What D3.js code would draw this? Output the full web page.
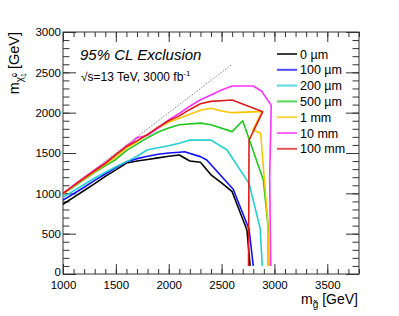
<!DOCTYPE html>
<html>
<head>
<meta charset="utf-8">
<script src="https://cdn.jsdelivr.net/npm/d3@7"></script>
<style>
body { margin: 0; background: #fff; }
text { font-family: "Liberation Sans", Arial, Helvetica, sans-serif; fill: #000; }
</style>
</head>
<body>
<div id="chart"></div>
<script>
// exclusion contours, [m_gluino, m_neutralino] in GeV
const curve0um = [[1000,865],[1100,950],[1200,1035],[1300,1120],[1400,1210],[1500,1290],[1600,1375],[1700,1400],[1800,1420],[1900,1440],[2000,1460],[2100,1475],[2200,1400],[2300,1385],[2400,1230],[2500,1130],[2600,1020],[2740,545],[2770,100]];
const curve100um = [[1000,915],[1100,995],[1200,1075],[1300,1160],[1400,1240],[1500,1320],[1600,1392],[1700,1430],[1800,1460],[1900,1485],[2000,1500],[2100,1510],[2150,1516],[2300,1455],[2360,1413],[2610,1050],[2760,555],[2800,100]];
const curve200um = [[1000,950],[1100,1030],[1200,1110],[1300,1190],[1400,1260],[1500,1330],[1600,1390],[1700,1460],[1800,1540],[2000,1590],[2100,1620],[2200,1660],[2400,1660],[2550,1540],[2760,1124],[2865,565],[2885,100]];
const curve500um = [[1000,990],[1100,1080],[1200,1170],[1300,1260],[1400,1340],[1500,1420],[1600,1530],[1700,1610],[1800,1690],[1900,1760],[2000,1810],[2100,1850],[2300,1870],[2400,1850],[2600,1765],[2700,1900],[2780,1600],[2895,1165],[2940,590],[2942,100]];
const curve1mm = [[1000,995],[1100,1090],[1200,1180],[1300,1270],[1400,1360],[1500,1450],[1600,1560],[1700,1640],[1800,1730],[1900,1810],[2000,1880],[2100,1930],[2200,1980],[2300,2030],[2400,2055],[2500,2020],[2600,2000],[2800,2010],[2885,2015],[2795,1785],[2870,1745],[2905,1165],[2935,700],[2948,100]];
const curve10mm = [[1000,1000],[1100,1100],[1200,1195],[1300,1290],[1400,1380],[1500,1480],[1600,1590],[1650,1630],[1700,1690],[1800,1720],[1900,1810],[2000,1910],[2100,1990],[2200,2080],[2300,2160],[2400,2220],[2500,2280],[2600,2330],[2800,2330],[2880,2265],[2970,2090],[2955,1200],[2965,100]];
const curve100mm = [[1000,1000],[1100,1095],[1200,1190],[1300,1280],[1400,1370],[1500,1480],[1600,1580],[1700,1650],[1800,1730],[1900,1820],[2000,1900],[2100,1960],[2200,2040],[2300,2110],[2400,2140],[2600,2157],[2890,2012],[2760,1660],[2755,100]];
const diagonal = [[1000,1000],[2600,2600]];

const seriesLabels = ["0 µm", "100 µm", "200 µm", "500 µm", "1 mm", "10 mm", "100 mm"];
const seriesColors = ["#000000", "#1010ff", "#22d0d0", "#1fc81f", "#ffc400", "#ff33ff", "#dd1c1c"];
const allCurves = [curve0um, curve100um, curve200um, curve500um, curve1mm, curve10mm, curve100mm];

const xMajorTicks = [1000, 1500, 2000, 2500, 3000, 3500];
const yMajorTicks = [0, 500, 1000, 1500, 2000, 2500, 3000];

const width = 399;
const height = 316;
const margin = { top: 32, right: 40, bottom: 42, left: 63 };

const svg = d3.select("#chart")
    .append("svg")
    .attr("width", width)
    .attr("height", height);

const x = d3.scaleLinear()
    .domain([1000, 3800])
    .range([margin.left, width - margin.right]);

const y = d3.scaleLinear()
    .domain([0, 3000])
    .range([height - margin.bottom, margin.top]);

const xMinor = d3.range(1000, 3801, 100);
const yMinor = d3.range(0, 3001, 100);

// ticks point into the frame, ROOT style
function drawAxis(axis, tx, ty, labels) {
    const g = svg.append("g")
        .attr("transform", `translate(${tx}, ${ty})`)
        .call(axis);
    g.select(".domain").remove();
    g.selectAll("line").attr("stroke", "#333");
    if (labels) {
        g.selectAll("text").style("font-size", "11.5px").attr("fill", "#000");
    } else {
        g.selectAll("text").remove();
    }
    return g;
}

const bottomY = height - margin.bottom;
const rightX = width - margin.right;

drawAxis(d3.axisBottom(x).tickValues(xMinor).tickSize(-5).tickSizeOuter(0), 0, bottomY, false);
drawAxis(d3.axisBottom(x).tickValues(xMajorTicks).tickSize(-10).tickSizeOuter(0).tickPadding(6.5).tickFormat(d3.format("d")), 0, bottomY, true);
drawAxis(d3.axisTop(x).tickValues(xMinor).tickSize(-5).tickSizeOuter(0), 0, margin.top, false);
drawAxis(d3.axisTop(x).tickValues(xMajorTicks).tickSize(-10).tickSizeOuter(0), 0, margin.top, false);

drawAxis(d3.axisLeft(y).tickValues(yMinor).tickSize(-6.5).tickSizeOuter(0), margin.left, 0, false);
const yLabels = drawAxis(d3.axisLeft(y).tickValues(yMajorTicks).tickSize(-13).tickSizeOuter(0).tickPadding(2).tickFormat(d3.format("d")), margin.left, 0, true);
// keep the "0" clear of the "1000" below it
yLabels.selectAll("text").filter(d => d === 0).attr("y", -2);
drawAxis(d3.axisRight(y).tickValues(yMinor).tickSize(-6.5).tickSizeOuter(0), rightX, 0, false);
drawAxis(d3.axisRight(y).tickValues(yMajorTicks).tickSize(-13).tickSizeOuter(0), rightX, 0, false);

svg.append("rect")
    .attr("x", margin.left)
    .attr("y", margin.top)
    .attr("width", rightX - margin.left)
    .attr("height", bottomY - margin.top)
    .attr("fill", "none")
    .attr("stroke", "#333")
    .attr("stroke-width", 1);

const line = d3.line()
    .x(d => x(d[0]))
    .y(d => y(d[1]));

svg.append("path")
    .datum(diagonal)
    .attr("d", line)
    .attr("fill", "none")
    .attr("stroke", "#666")
    .attr("stroke-width", 0.8)
    .attr("stroke-dasharray", "1.5,1.5");

svg.append("g")
    .selectAll("path")
    .data(allCurves)
    .enter()
    .append("path")
    .attr("d", line)
    .attr("fill", "none")
    .attr("stroke", (d, i) => seriesColors[i])
    .attr("stroke-width", 1.6)
    .attr("stroke-linejoin", "round");

// legend
const legend = svg.append("g");
seriesLabels.forEach((label, i) => {
    const ly = 54 + i * 15.8;
    legend.append("line")
        .attr("x1", 277).attr("x2", 297)
        .attr("y1", ly).attr("y2", ly)
        .attr("stroke", seriesColors[i])
        .attr("stroke-width", 2)
        .attr("opacity", 0.75);
    legend.append("text")
        .attr("x", 300)
        .attr("y", ly + 4.5)
        .style("font-size", "12.5px")
        .text(label);
});

// labels
svg.append("text")
    .attr("x", 80)
    .attr("y", 60)
    .style("font-size", "15px")
    .style("font-style", "italic")
    .text("95% CL Exclusion");

const energy = svg.append("text")
    .attr("x", 81)
    .attr("y", 81)
    .style("font-size", "12px");
energy.append("tspan").text("√s=13 TeV, 3000 fb");
energy.append("tspan").attr("dy", -5).style("font-size", "8px").text("-1");

const xTitle = svg.append("text")
    .attr("x", 358)
    .attr("y", 304)
    .attr("text-anchor", "end")
    .style("font-size", "14px");
xTitle.append("tspan").text("m");
xTitle.append("tspan").attr("dy", 4).style("font-size", "10px").text("g̃");
xTitle.append("tspan").attr("dy", -4).text(" [GeV]");

const yTitle = svg.append("text")
    .attr("transform", "translate(19, 32) rotate(-90)")
    .attr("text-anchor", "end")
    .style("font-size", "14.5px");
yTitle.append("tspan").text("m");
yTitle.append("tspan").attr("dy", 4).style("font-size", "10px").text("χ̃");
yTitle.append("tspan").attr("dy", -6).style("font-size", "7px").text("0");
yTitle.append("tspan").attr("dx", -4).attr("dy", 9).style("font-size", "7px").text("1");
yTitle.append("tspan").attr("dy", -7).text(" [GeV]");
</script>
</body>
</html>
